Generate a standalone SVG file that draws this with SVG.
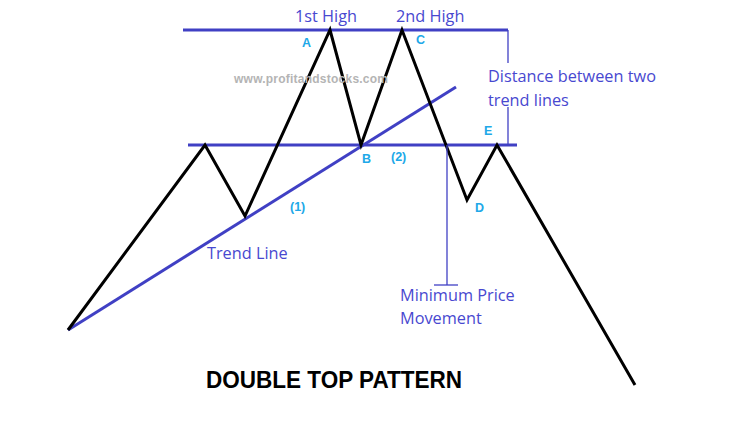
<svg xmlns="http://www.w3.org/2000/svg" width="741" height="439" viewBox="0 0 741 439">
<style>
.bl{stroke:#4040c4;stroke-width:3;fill:none}
.thin{stroke:#4040c4;stroke-width:1.3;fill:none}
.lbl{font-family:"Open Sans","Liberation Sans",sans-serif;font-size:16.3px;fill:#4848d0}
.pt{font-family:"Liberation Sans",Arial,sans-serif;font-size:12.5px;font-weight:bold;fill:#20a8e8}
</style>
<rect width="741" height="439" fill="#fff"/>
<g id="connectors">
<line class="bl" x1="183" y1="30" x2="508" y2="30"/>
<line class="bl" x1="188" y1="145" x2="517" y2="145"/>
<line class="bl" x1="68" y1="330" x2="456" y2="87"/>
<polyline points="68,330 205,145 245,216 330,30 361,145 402,30 467,200 497,145 635,385" fill="none" stroke="#000" stroke-width="3" stroke-linejoin="miter"/>
<line class="thin" x1="508" y1="30" x2="508" y2="63"/>
<line class="thin" x1="508" y1="107" x2="508" y2="145"/>
<line class="thin" x1="447" y1="145" x2="447" y2="285"/>
<line class="thin" x1="434" y1="285" x2="458" y2="285"/>
</g>
<g id="watermark"><text x="234" y="83" font-family="Liberation Sans,Arial,sans-serif" font-size="12" font-weight="bold" fill="#b4b4b4" textLength="154">www.profitandstocks.com</text></g>
<g id="high1"><text class="lbl" x="295" y="22">1st High</text></g>
<g id="high2"><text class="lbl" x="396" y="22">2nd High</text></g>
<g id="distance"><text class="lbl" x="488" y="82">Distance between two</text><text class="lbl" x="488" y="106">trend lines</text></g>
<g id="trendline"><text class="lbl" x="207" y="259">Trend Line</text></g>
<g id="minmove"><text class="lbl" x="400" y="301">Minimum Price</text><text class="lbl" x="400" y="324">Movement</text></g>
<g id="points">
<text class="pt" x="302" y="47">A</text>
<text class="pt" x="362" y="163">B</text>
<text class="pt" x="416" y="44">C</text>
<text class="pt" x="475" y="212">D</text>
<text class="pt" x="484" y="135">E</text>
<text class="pt" x="290" y="211">(1)</text>
<text class="pt" x="391" y="161">(2)</text>
</g>
<g id="title"><text x="206" y="388" font-family="Liberation Sans,Arial,sans-serif" font-size="24" font-weight="bold" fill="#000" textLength="256" lengthAdjust="spacingAndGlyphs">DOUBLE TOP PATTERN</text></g>
</svg>
